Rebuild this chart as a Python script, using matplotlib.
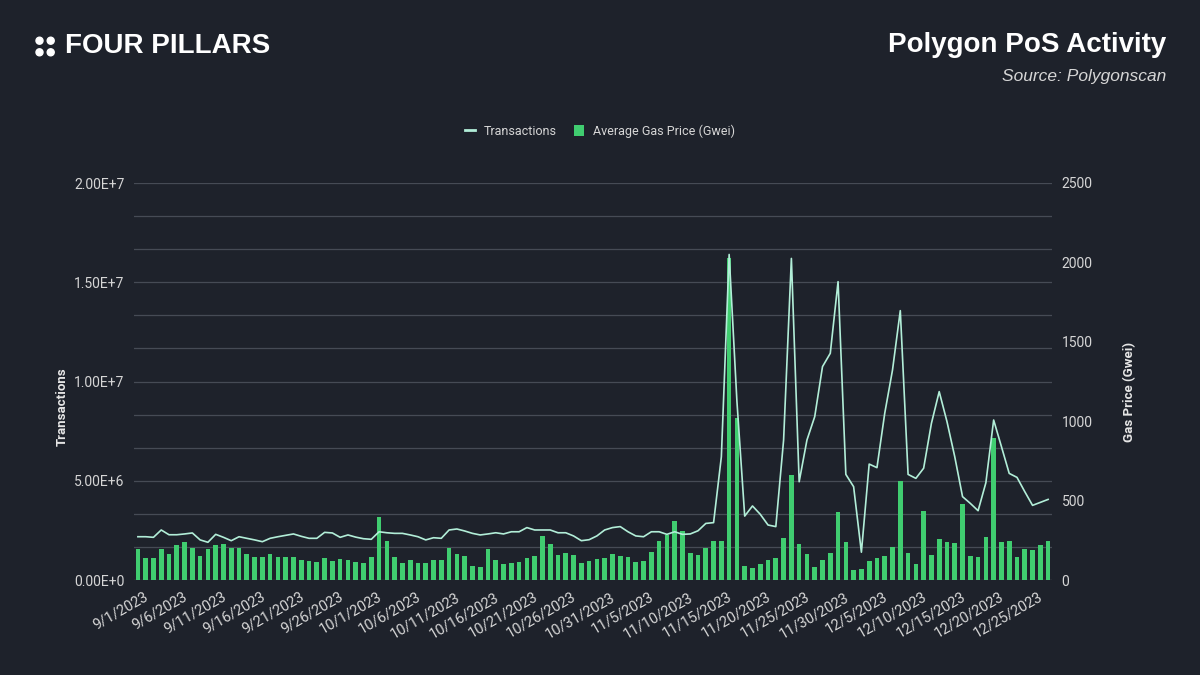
import pandas as pd
import matplotlib.pyplot as plt
import matplotlib.transforms as mtransforms
from matplotlib.lines import Line2D
from matplotlib.patches import Patch, Circle

plt.rcParams['font.family'] = ['Roboto', 'DejaVu Sans']

dates = pd.date_range('2023-09-01', '2023-12-27', freq='D')
date_labels = [f'{d.month}/{d.day}/{d.year}' for d in dates]

# daily transactions, millions
transactions = [
    2.18, 2.18, 2.15, 2.52, 2.28, 2.28, 2.32, 2.37, 2.02, 1.90,
    2.30, 2.15, 1.98, 2.18, 2.10, 2.02, 1.93, 2.10, 2.18, 2.25,
    2.32, 2.20, 2.10, 2.10, 2.40, 2.37, 2.15, 2.27, 2.16, 2.08,
    2.05, 2.43, 2.38, 2.35, 2.35, 2.27, 2.18, 2.02, 2.13, 2.10,
    2.52, 2.57, 2.47, 2.35, 2.27, 2.32, 2.38, 2.32, 2.43, 2.43,
    2.64, 2.52, 2.52, 2.52, 2.38, 2.38, 2.22, 1.98, 2.03, 2.22,
    2.52, 2.64, 2.69, 2.43, 2.22, 2.18, 2.43, 2.43, 2.30, 2.43,
    2.30, 2.32, 2.48, 2.85, 2.89, 6.21, 16.4, 9.00, 3.22, 3.73,
    3.31, 2.77, 2.69, 7.05, 16.2, 4.95, 7.05, 8.23, 10.75, 11.42,
    15.03, 5.32, 4.70, 1.40, 5.84, 5.66, 8.40, 10.58, 13.57, 5.32,
    5.12, 5.63, 7.89, 9.49, 7.98, 6.21, 4.20, 3.86, 3.49, 4.90,
    8.06, 6.72, 5.37, 5.17, 4.45, 3.76, 3.91, 4.06,
]

# average gas price, gwei
gas_price = [
    193, 136, 136, 193, 162, 218, 237, 199, 149, 193,
    218, 225, 204, 199, 162, 143, 143, 162, 143, 143,
    143, 124, 117, 111, 136, 117, 130, 124, 111, 105,
    143, 399, 248, 143, 105, 124, 105, 105, 124, 124,
    199, 162, 149, 86, 80, 193, 124, 99, 105, 111,
    136, 149, 275, 225, 155, 168, 155, 105, 117, 130,
    136, 162, 149, 143, 111, 117, 174, 248, 281, 374,
    311, 168, 155, 199, 248, 248, 2026, 1018, 86, 73,
    99, 124, 136, 267, 659, 225, 162, 80, 124, 168,
    426, 237, 61, 67, 117, 136, 149, 206, 621, 168,
    99, 437, 155, 256, 237, 231, 479, 149, 143, 273,
    892, 237, 243, 143, 193, 187, 218, 248,
]

tx_ticks = [0, 5e6, 1e7, 1.5e7, 2e7]
tx_tick_labels = ['0.00E+0', '5.00E+6', '1.00E+7', '1.50E+7', '2.00E+7']
gas_ticks = [0, 500, 1000, 1500, 2000, 2500]

BG = '#1e222b'
GRID = '#464b55'
TEXT = '#d6d6d6'
BAR = '#40cd70'
LINE = '#b2eed8'

fig = plt.figure(figsize=(12, 6.75), dpi=100, facecolor=BG)
ax_tx = fig.add_axes([134 / 1200, 95 / 675, 918 / 1200, 397 / 675])
ax_gas = ax_tx.twinx()
ax_tx.set_zorder(ax_gas.get_zorder() + 1)
ax_tx.patch.set_visible(False)
ax_gas.set_facecolor(BG)

x = list(range(len(dates)))

# grid: 12 divisions
for k in range(13):
    ax_gas.axhline(2500 * k / 12, color='#6b6f78' if k == 0 else GRID, lw=0.9, zorder=0)

ax_gas.bar(x, gas_price, width=0.6, color=BAR, zorder=2)
ax_tx.plot(x, [v * 1e6 for v in transactions], color=LINE, lw=1.2, zorder=3)

ax_tx.set_xlim(-0.5, len(x) - 0.5)
ax_tx.set_ylim(0, 2e7)
ax_gas.set_ylim(0, 2500)

ax_tx.set_yticks(tx_ticks)
ax_tx.set_yticklabels(tx_tick_labels)
ax_gas.set_yticks(gas_ticks)
ax_gas.set_yticklabels([str(v) for v in gas_ticks])

for ax in (ax_tx, ax_gas):
    for s in ax.spines.values():
        s.set_visible(False)
    ax.tick_params(axis='y', length=0, colors=TEXT, labelsize=10, pad=7)
ax_tx.tick_params(axis='x', length=0, colors=TEXT, pad=7)

ax_tx.set_xticks(x[::5])
ax_tx.set_xticklabels(date_labels[::5], rotation=30, ha='right', va='top',
                      rotation_mode='anchor', fontsize=10.5)
# nudge the rotated date labels right, like the original
offset = mtransforms.ScaledTranslation(6 / 100, 0, fig.dpi_scale_trans)
for tick in ax_tx.xaxis.get_major_ticks():
    tick.label1.set_transform(tick.label1.get_transform() + offset)

fig.text(62 / 1200, 1 - 407 / 675, 'Transactions', rotation=90, ha='center', va='center',
         color='#e6e6e6', fontsize=9.5, fontweight='bold')
fig.text(1130 / 1200, 1 - 392 / 675, 'Gas Price (Gwei)', rotation=90, ha='center', va='center',
         color='#e6e6e6', fontsize=9.5, fontweight='bold')

handles = [Line2D([0], [0], color=LINE, lw=2),
           Patch(facecolor=BAR, edgecolor='none')]
fig.legend(handles, ['Transactions', 'Average Gas Price (Gwei)'], loc='center',
           bbox_to_anchor=(600 / 1200, 1 - 131 / 675), ncol=2, frameon=False,
           fontsize=9, labelcolor=TEXT, handlelength=0.8, handleheight=0.9,
           columnspacing=1.4, handletextpad=0.7)

# header
fig.text(65 / 1200, 1 - 46 / 675, 'FOUR PILLARS', ha='left', va='center', color='white',
         fontsize=20, fontweight='bold', family=['Liberation Sans', 'DejaVu Sans'])
for cx, cy in [(39.5, 40.7), (50.7, 40.7), (39.5, 52.3), (50.7, 52.3)]:
    fig.patches.append(Circle((cx / 100, (675 - cy) / 100), 3.5 / 100, color='white',
                              transform=fig.dpi_scale_trans))
fig.text(1166 / 1200, 1 - 45 / 675, 'Polygon PoS Activity', ha='right', va='center',
         color='white', fontsize=20, fontweight='bold', family=['Liberation Sans', 'DejaVu Sans'])
fig.text(1166 / 1200, 1 - 76 / 675, 'Source: Polygonscan', ha='right', va='center',
         color=TEXT, fontsize=12.5, style='italic', family=['Liberation Sans', 'DejaVu Sans'])

fig.savefig('out.png', dpi=100, facecolor=BG)
